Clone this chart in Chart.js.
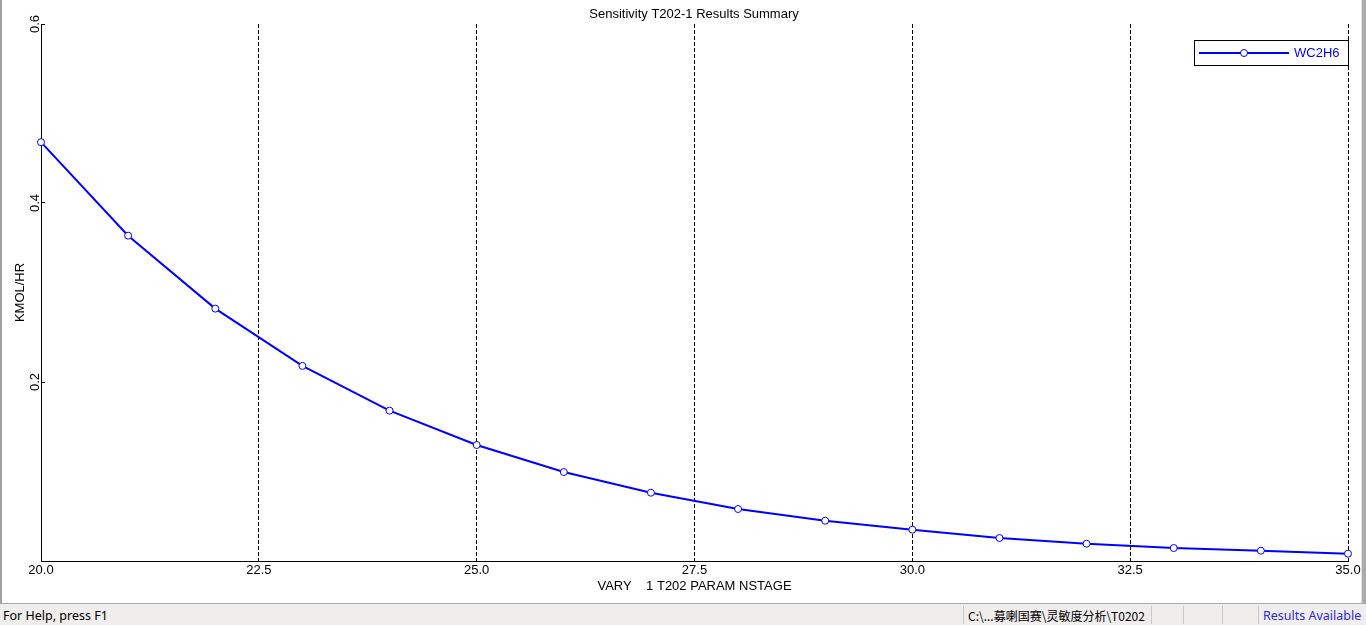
<!DOCTYPE html>
<html><head><meta charset="utf-8">
<script src="https://cdn.jsdelivr.net/npm/chart.js@4.4.1/dist/chart.umd.min.js"></script>
<style>
html,body{margin:0;padding:0;background:#fff;width:1366px;height:625px;overflow:hidden;position:relative;font-family:"Liberation Sans",Arial,sans-serif;}
#c{position:absolute;left:0;top:0;}
#lb{position:absolute;left:0;top:0;width:2px;height:604px;background:#a0a0a0;}
#rb{position:absolute;left:1361px;top:0;width:4px;height:604px;background:#ababab;border-left:1px solid #e3e3e3;}
#status{position:absolute;left:0;top:603px;width:1366px;height:22px;background:#f0eded;border-top:1px solid #a9a9a9;box-sizing:border-box;}
.st{position:absolute;top:4px;font-size:12.5px;line-height:16px;color:#000;white-space:nowrap;font-family:"Noto Sans","Noto Sans CJK SC",sans-serif;}
.sep{position:absolute;top:2px;width:1px;height:18px;background:#c8c8c8;}
</style></head><body>
<canvas id="c" width="1366" height="604"></canvas>
<div id="lb"></div>
<div id="rb"></div>
<div id="status">
  <div class="st" id="help" style="left:3px;">For Help, press F1</div>
  <div class="sep" style="left:963px;"></div>
  <div class="st" style="left:968px;font-family:'Noto Sans CJK SC',sans-serif;font-size:12px;">C:\...募喇国赛\灵敏度分析\T0202</div>
  <div class="sep" style="left:1151px;"></div>
  <div class="sep" style="left:1183px;"></div>
  <div class="sep" style="left:1222px;"></div>
  <div class="sep" style="left:1258px;"></div>
  <div class="st" style="left:1263px;color:#2b2bd6;">Results Available</div>
</div>
<script>
// ---- data ----
const xValues = [20, 21, 22, 23, 24, 25, 26, 27, 28, 29, 30, 31, 32, 33, 34, 35];
const wc2h6 = [0.468, 0.3635, 0.282, 0.218, 0.168, 0.1296, 0.0994, 0.0763, 0.0581, 0.0450, 0.0350, 0.0257, 0.0193, 0.0145, 0.0115, 0.0082];
const xTicks = [20, 22.5, 25, 27.5, 30, 32.5, 35];
const yTicks = [0.2, 0.4, 0.6];
const seriesName = 'WC2H6';
const chartTitle = 'Sensitivity T202-1 Results Summary';
const xTitle = 'VARY    1 T202 PARAM NSTAGE';
const yTitle = 'KMOL/HR';

const FONT = '"Liberation Sans", Arial, sans-serif';
const BLUE = '#0000ff';

const legendPlugin = {
  id: 'boxLegend',
  afterDraw(chart) {
    const ctx = chart.ctx;
    const ds = chart.data.datasets[0];
    ctx.save();
    ctx.fillStyle = '#fff';
    ctx.fillRect(1195, 41, 153, 24);
    ctx.strokeStyle = '#000';
    ctx.lineWidth = 1;
    ctx.strokeRect(1194.5, 40.5, 154, 25);
    ctx.strokeStyle = BLUE;
    ctx.lineWidth = 2;
    ctx.beginPath();
    ctx.moveTo(1199, 53);
    ctx.lineTo(1289, 53);
    ctx.stroke();
    ctx.beginPath();
    ctx.arc(1244, 53, 3.5, 0, Math.PI * 2);
    ctx.fillStyle = '#fff';
    ctx.fill();
    ctx.lineWidth = 1;
    ctx.stroke();
    ctx.fillStyle = BLUE;
    ctx.font = '13px ' + FONT;
    ctx.textBaseline = 'middle';
    ctx.textAlign = 'left';
    ctx.fillText(ds.label, 1294, 53.5);
    ctx.restore();
  }
};

new Chart(document.getElementById('c'), {
  type: 'line',
  data: {
    datasets: [{
      label: seriesName,
      data: xValues.map((x, i) => ({x: x, y: wc2h6[i]})),
      borderColor: BLUE,
      borderWidth: 2,
      pointRadius: 3.5,
      pointBackgroundColor: '#fff',
      pointBorderColor: BLUE,
      pointBorderWidth: 1,
      tension: 0,
      clip: false
    }]
  },
  options: {
    animation: false,
    responsive: false,
    devicePixelRatio: 1,
    layout: {padding: {left: 22, right: 0, top: 0, bottom: 0}},
    plugins: {
      legend: {display: false},
      tooltip: {enabled: false},
      title: {
        display: true, text: chartTitle, color: '#000',
        font: {family: FONT, size: 13, weight: 'normal'},
        padding: {top: 6.2, bottom: 2.2}
      }
    },
    scales: {
      x: {
        type: 'linear', min: 20, max: 35,
        afterBuildTicks: s => { s.ticks = xTicks.map(v => ({value: v})); },
        ticks: {
          callback: v => Number(v).toFixed(1), color: '#000',
          font: {family: FONT, size: 13}, padding: 2, maxRotation: 0, minRotation: 0, autoSkip: false
        },
        grid: {display: true, color: '#000', lineWidth: 1, drawTicks: false},
        border: {display: true, color: '#000', width: 1, dash: [4, 2]},
        title: {
          display: true, text: xTitle, color: '#000',
          font: {family: FONT, size: 13}, padding: {top: 0, bottom: 10.2}
        },
        afterFit: s => { s.height = 43; s.paddingLeft = 0; s.paddingRight = 18; }
      },
      y: {
        min: 0, max: 0.6,
        afterBuildTicks: s => { s.ticks = yTicks.map(v => ({value: v})); },
        ticks: {
          callback: v => Number(v).toFixed(1), color: '#000',
          font: {family: FONT, size: 13}, minRotation: 90, maxRotation: 90,
          crossAlign: 'center', padding: 1
        },
        grid: {display: true, drawOnChartArea: false, drawTicks: true, tickLength: -4, color: '#000', lineWidth: 1},
        border: {display: true, color: '#000', width: 1},
        title: {
          display: true, text: yTitle, color: '#000',
          font: {family: FONT, size: 13}, padding: {top: -9.8, bottom: 0}
        },
        afterFit: s => { s.width = 19; s.paddingTop = 0; s.paddingBottom = 0; }
      }
    }
  },
  plugins: [legendPlugin]
});
</script>
</body></html>
